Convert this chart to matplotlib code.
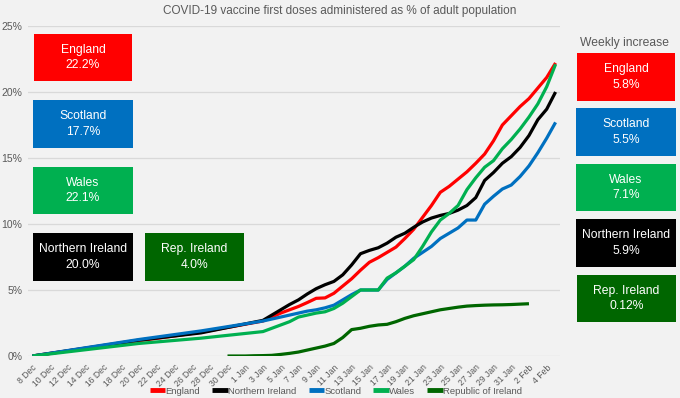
import numpy as np
import pandas as pd
import matplotlib
matplotlib.use("Agg")
import matplotlib.pyplot as plt
from matplotlib.patches import Rectangle

plt.rcParams['font.family'] = ['Liberation Sans', 'DejaVu Sans']

N = np.nan
dates = pd.date_range("2020-12-08", "2021-02-05")
tick_labels = [f"{d.day} {d.strftime('%b')}" for d in dates]

england = [0] + [N]*11 + [1.15] + [N]*6 + [1.8] + [N]*6 + [
    2.65, 2.95, 3.25, 3.5, 3.75, 4.05, 4.37, 4.4, 4.75, 5.3, 5.85, 6.5, 7.1, 7.45,
    7.85, 8.25, 8.9, 9.6, 10.5, 11.4, 12.4, 12.85, 13.4, 13.95, 14.6, 15.3, 16.3,
    17.5, 18.2, 18.9, 19.5, 20.3, 21.1, 22.2]
n_ireland = [0] + [N]*11 + [1.2] + [N]*6 + [1.75] + [N]*6 + [
    2.7, 3.1, 3.5, 3.9, 4.25, 4.7, 5.1, 5.4, 5.65, 6.15, 6.9, 7.75, 8.0, 8.2,
    8.55, 9.0, 9.3, 9.75, 10.15, 10.45, 10.65, 10.8, 11.05, 11.4, 12.0, 13.3, 13.9,
    14.6, 15.1, 15.8, 16.7, 17.9, 18.7, 20.0]
scotland = [0] + [N]*11 + [1.25] + [N]*6 + [1.9] + [N]*6 + [
    2.65, 2.8, 2.95, 3.1, 3.25, 3.4, 3.5, 3.65, 3.85, 4.25, 4.65, 5.0, 5.0, 5.0,
    5.8, 6.3, 6.8, 7.4, 7.85, 8.3, 8.9, 9.3, 9.7, 10.3, 10.3, 11.5, 12.1,
    12.65, 12.95, 13.6, 14.4, 15.4, 16.5, 17.7]
wales = [0] + [N]*11 + [0.95] + [N]*6 + [1.35] + [N]*6 + [
    1.85, 2.1, 2.35, 2.6, 2.95, 3.1, 3.25, 3.35, 3.6, 4.0, 4.5, 5.0, 5.0, 5.0,
    5.9, 6.3, 6.8, 7.3, 8.3, 9.4, 10.3, 10.8, 11.4, 12.6, 13.5, 14.3, 14.8,
    15.7, 16.4, 17.2, 18.1, 19.1, 20.4, 22.1]
rep_ireland = [N]*22 + [
    0.0, 0.0, 0.0, 0.02, 0.03, 0.05, 0.12, 0.2, 0.3, 0.45, 0.6, 0.75, 0.95, 1.4,
    2.0, 2.1, 2.25, 2.35, 2.4, 2.6, 2.85, 3.05, 3.2, 3.35, 3.5, 3.6, 3.7, 3.78,
    3.82, 3.85, 3.87, 3.88, 3.9, 3.93, 3.96] + [N]*3

series_names = ["England", "Northern Ireland", "Scotland", "Wales", "Republic of Ireland"]
series_values = [england, n_ireland, scotland, wales, rep_ireland]
colors = ["#FF0000", "#000000", "#0070C0", "#00B050", "#006600"]

latest_labels = ["England", "Scotland", "Wales", "Northern Ireland", "Rep. Ireland"]
latest_values = ["22.2%", "17.7%", "22.1%", "20.0%", "4.0%"]
latest_colors = ["#FF0000", "#0070C0", "#00B050", "#000000", "#006600"]
weekly_labels = ["England", "Scotland", "Wales", "Northern Ireland", "Rep. Ireland"]
weekly_values = ["5.8%", "5.5%", "7.1%", "5.9%", "0.12%"]

W, H = 680, 398
bg = "#F2F2F2"
grey = "#595959"
fig = plt.figure(figsize=(W/100, H/100), dpi=100, facecolor=bg)
ax = fig.add_axes([28/W, 1-356/H, (560-28)/W, (356-26)/H], facecolor=bg)

x = np.arange(len(dates))
for name, vals, c in zip(series_names, series_values, colors):
    v = np.array(vals, dtype=float)
    m = ~np.isnan(v)
    ax.plot(x[m], v[m], color=c, lw=2.3, label=name, solid_capstyle='butt')

ax.set_xlim(-0.5, len(dates)-0.5)
ax.set_ylim(0, 25)
ax.set_yticks(np.arange(0, 26, 5))
ax.set_yticklabels([f"{v}%" for v in range(0, 26, 5)], color=grey, fontsize=7.5)
ax.set_xticks(x[::2])
ax.set_xticklabels(tick_labels[::2], rotation=45, ha='right', rotation_mode='anchor',
                   color=grey, fontsize=6.2)
ax.tick_params(axis='both', length=0, pad=4)
ax.tick_params(axis='x', pad=5)
ax.grid(axis='y', color="#D9D9D9", lw=0.9)
ax.set_axisbelow(True)
for s in ax.spines.values():
    s.set_visible(False)

fig.text(340/W, 1-11/H, "COVID-19 vaccine first doses administered as % of adult population",
         ha='center', va='center', color=grey, fontsize=8.5)

def box(x0, y0, x1, y1, color, label, value):
    fig.add_artist(Rectangle((x0/W, 1-y1/H), (x1-x0)/W, (y1-y0)/H,
                             transform=fig.transFigure, facecolor=color, edgecolor='none'))
    fig.text((x0+x1)/2/W, 1-(y0+y1)/2/H, f"{label}\n{value}", ha='center', va='center',
             color='white', fontsize=8.7, linespacing=1.35)

left_boxes = [(34, 34, 132, 81), (33, 100, 133, 148), (33, 167, 133, 214),
              (33, 233, 133, 281), (145, 233, 244, 281)]
for (x0, y0, x1, y1), lab, val, c in zip(left_boxes, latest_labels, latest_values, latest_colors):
    box(x0, y0, x1, y1, c, lab, val)

fig.text(625/W, 1-43/H, "Weekly increase", ha='center', va='center', color=grey, fontsize=8.7)
right_boxes = [(577, 53, 675, 101), (576, 108, 676, 156), (576, 164, 676, 211),
               (576, 219, 676, 267), (577, 275, 676, 322)]
for (x0, y0, x1, y1), lab, val, c in zip(right_boxes, weekly_labels, weekly_values, latest_colors):
    box(x0, y0, x1, y1, c, lab, val)

leg = fig.legend(loc='center', bbox_to_anchor=(336/W, 1-391/H), ncol=5, frameon=False,
                 fontsize=6.8, handlelength=1.6, handletextpad=0.05, columnspacing=1.3,
                 borderaxespad=0, borderpad=0)
for t in leg.get_texts():
    t.set_color(grey)
for h in leg.get_lines():
    h.set_linewidth(3.5)

fig.savefig("out.png", dpi=100, facecolor=bg)
